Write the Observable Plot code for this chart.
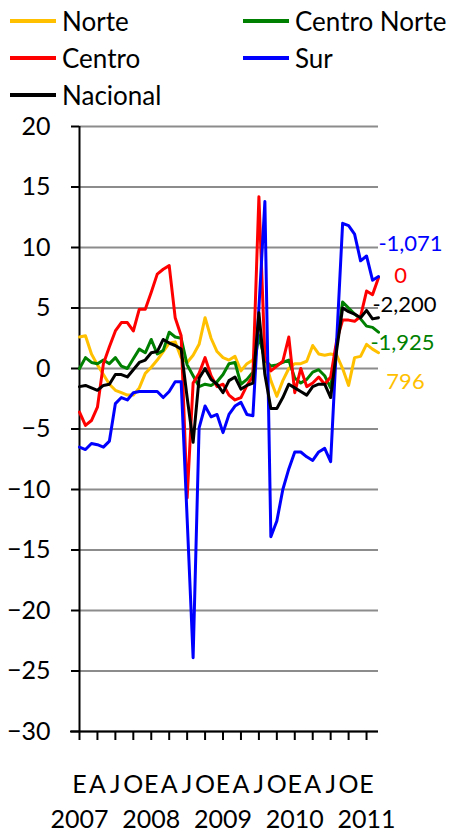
<!DOCTYPE html>
<html>
<head>
<meta charset="utf-8">
<script src="https://cdn.jsdelivr.net/npm/d3@7"></script>
<script src="https://cdn.jsdelivr.net/npm/@observablehq/plot@0.6"></script>
<style>
  body { margin: 0; background: #fff; font-family: Lato, sans-serif; }
  #wrap { position: relative; width: 458px; height: 832px; overflow: hidden; }
  #legend { position: absolute; left: 0; top: 0; width: 458px; height: 115px; z-index: 2; }
  .item { position: absolute; display: flex; align-items: center; height: 32px; font-size: 26px; color: #000; white-space: nowrap; }
  .sw { width: 46px; height: 4px; margin-right: 6px; }
  #chart { position: absolute; left: 0; top: 0; }
</style>
</head>
<body>
<div id="wrap"><div id="legend"></div><div id="chart"></div></div>
<script>
// Series names and colours (legend order)
const seriesNames = ["Norte", "Centro Norte", "Centro", "Sur", "Nacional"];
const seriesColors = ["#FFC000", "#008000", "#FF0000", "#0000FF", "#000000"];
// Labels shown at the end of each line
const endLabels = ["796", "-1,925", "0", "-1,071", "-2,200"];

// Monthly values, Jan 2007 .. Mar 2011 (51 months)
const norte = [2.6, 2.7, 1.2, 0.3, -0.5, -1.3, -1.8, -2.0, -2.2, -2.2, -1.6, -0.4, 0.1,
  0.7, 1.4, 2.1, 2.2, 0.9, 0.5, 1.1, 2.0, 4.2, 2.5, 1.4, 0.9, 0.7, 1.0, -0.2, 0.4, 0.7,
  2.8, 0.8, -1.0, -2.3, -1.0, 0.0, 0.4, 0.4, 0.6, 1.9, 1.2, 1.1, 1.2, 1.1, 0.0, -1.4,
  0.9, 1.0, 2.0, 1.6, 1.3];
const centroNorte = [0.0, 0.9, 0.5, 0.4, 0.7, 0.4, 0.9, 0.2, 0.0, 0.8, 1.6, 1.3, 2.4,
  1.2, 1.5, 3.0, 2.6, 2.5, 0.3, -0.6, -1.5, -1.3, -1.4, -1.1, -0.5, 0.4, 0.5, -1.3, -0.9,
  -0.3, 2.7, 0.7, 0.2, 0.3, 0.5, 0.7, -0.8, -1.2, -0.9, -0.3, -0.1, -0.6, -1.6, 2.0, 5.5,
  5.0, 4.5, 4.1, 3.5, 3.4, 3.0];
const centro = [-3.6, -4.7, -4.3, -3.2, 0.4, 1.8, 3.1, 3.8, 3.8, 3.1, 4.9, 4.9, 6.3,
  7.8, 8.2, 8.5, 4.2, 2.7, -10.7, -1.2, -0.4, 0.9, -0.6, -1.5, -1.3, -2.2, -2.6, -2.4,
  -1.4, -0.6, 14.2, 1.0, -0.2, 0.2, 0.6, 2.6, -2.0, 0.0, -1.5, -1.2, -0.7, -1.3, -0.7,
  2.3, 4.0, 4.0, 3.9, 4.3, 6.4, 6.1, 7.5];
const sur = [-6.5, -6.7, -6.2, -6.3, -6.5, -6.0, -2.9, -2.4, -2.6, -2.0, -1.9, -1.9,
  -1.9, -1.9, -2.4, -1.9, -1.1, -1.1, -12.4, -23.9, -4.9, -3.1, -4.0, -3.8, -5.3, -3.8,
  -3.1, -2.8, -3.8, -3.9, 5.0, 13.8, -13.9, -12.6, -10.0, -8.3, -6.9, -6.9, -7.3, -7.6,
  -6.9, -6.6, -7.7, 2.2, 12.0, 11.8, 11.1, 8.9, 9.3, 7.3, 7.6];
const nacional = [-1.5, -1.4, -1.6, -1.8, -1.4, -1.3, -0.5, -0.5, -0.7, -0.1, 0.5, 0.7,
  1.3, 1.4, 2.4, 2.1, 1.9, 1.6, -2.4, -6.1, -0.8, 0.0, -0.9, -1.3, -2.0, -1.0, -0.7,
  -1.7, -1.4, -1.2, 4.6, -0.5, -3.3, -3.3, -2.4, -1.3, -1.6, -1.9, -2.2, -1.5, -1.3,
  -1.3, -2.4, 1.5, 5.0, 4.7, 4.5, 4.2, 4.8, 4.1, 4.2];

// Axis tick labels
const quarterLetters = ["E", "A", "J", "O"];
const years = ["2007", "2008", "2009", "2010", "2011"];
const yTicks = [-30, -25, -20, -15, -10, -5, 0, 5, 10, 15, 20];

const seriesValues = [norte, centroNorte, centro, sur, nacional];
const rows = [];
seriesValues.forEach((vals, s) => vals.forEach((v, i) => rows.push({series: seriesNames[s], i, v})));
const lastIndex = norte.length - 1;

// label nudges (style only)
const labelOffsets = {
  "Norte": {dx: 27, dy: 29},
  "Centro Norte": {dx: 24, dy: 11},
  "Centro": {dx: 22, dy: -2},
  "Sur": {dx: 32, dy: -33},
  "Nacional": {dx: 26, dy: -13}
};

const labelMarks = seriesNames.map((name, s) => Plot.text([{i: lastIndex, v: seriesValues[s][lastIndex], t: endLabels[s]}], {
  x: "i", y: "v", text: "t", fill: seriesColors[s], fontSize: 22,
  textAnchor: "middle", dx: labelOffsets[name].dx, dy: labelOffsets[name].dy
}));

const chart = Plot.plot({
  width: 458, height: 832,
  marginLeft: 79, marginRight: 80, marginTop: 126, marginBottom: 101,
  style: {fontFamily: "Lato, sans-serif", background: "transparent", overflow: "visible", color: "#000"},
  x: {domain: [0, lastIndex]},
  y: {domain: [-30, 20]},
  color: {domain: seriesNames, range: seriesColors},
  marks: [
    Plot.gridY({ticks: yTicks, stroke: "#8c8c8c", strokeOpacity: 1, strokeWidth: 2}),
    Plot.axisY({ticks: yTicks, tickSize: 8, tickPadding: 21, fontSize: 25, strokeWidth: 2, label: null}),
    Plot.axisX({ticks: d3.range(0, lastIndex, 3), tickSize: 9, tickPadding: 35, fontSize: 25, strokeWidth: 2,
      tickFormat: i => quarterLetters[(i / 3) % 4], label: null}),
    Plot.axisX({ticks: d3.range(0, lastIndex, 12), tickSize: 0, tickPadding: 79, fontSize: 25,
      tickFormat: i => years[i / 12], label: null}),
    Plot.ruleY([-30], {stroke: "#000", strokeWidth: 2, insetLeft: -9}),
    Plot.ruleX([0], {stroke: "#000", strokeWidth: 2}),
    Plot.lineY(rows, {x: "i", y: "v", z: "series", stroke: "series", strokeWidth: 3}),
    ...labelMarks
  ]
});
document.getElementById("chart").appendChild(chart);

// Legend (HTML)
const legend = document.getElementById("legend");
const colX = [10, 243];
const rowY = [21, 58, 95];
seriesNames.forEach((name, s) => {
  const item = document.createElement("div");
  item.className = "item";
  item.style.left = colX[s % 2] + "px";
  item.style.top = (rowY[Math.floor(s / 2)] - 16) + "px";
  const sw = document.createElement("span");
  sw.className = "sw";
  sw.style.background = seriesColors[s];
  const tx = document.createElement("span");
  tx.textContent = name;
  item.appendChild(sw);
  item.appendChild(tx);
  legend.appendChild(item);
});
</script>
</body>
</html>
